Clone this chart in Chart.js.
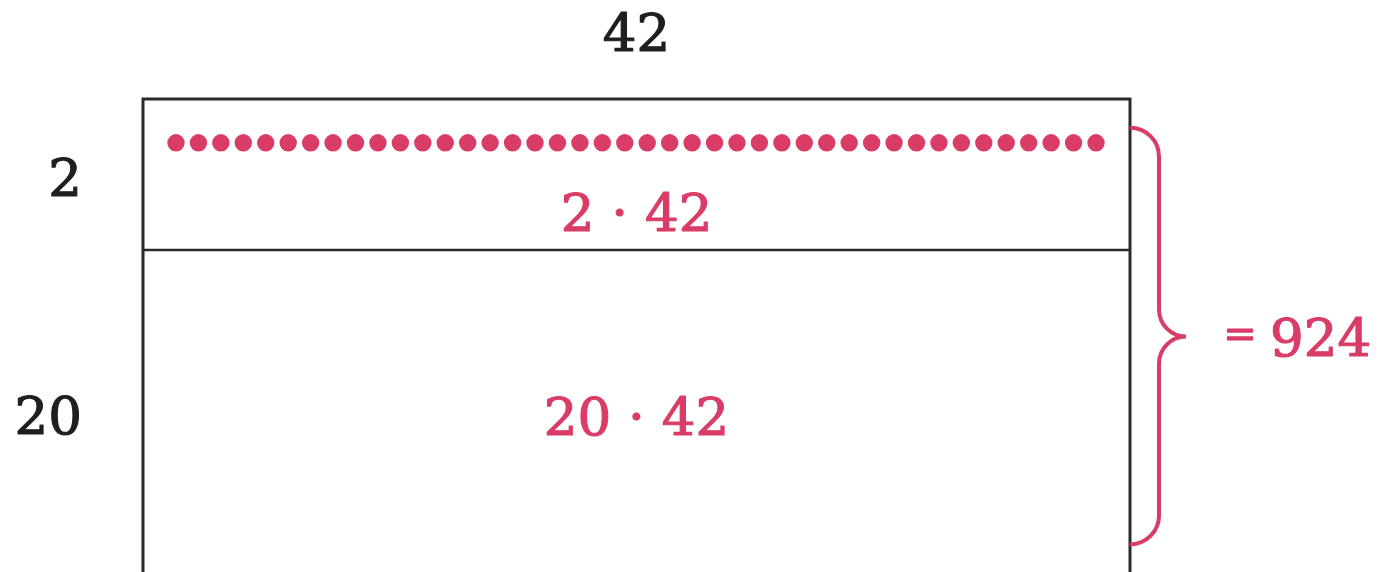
<!DOCTYPE html>
<html>
<head>
<meta charset="utf-8">
<script src="https://cdn.jsdelivr.net/npm/chart.js@4/dist/chart.umd.min.js"></script>
<style>
  html, body { margin: 0; padding: 0; background: #ffffff; }
  #wrap { width: 1379px; height: 572px; }
</style>
</head>
<body>
<div id="wrap"><canvas id="c" width="1379" height="572"></canvas></div>
<script>
// ---- data ----
const widthValue = 42;                 // columns (top label)
const rowValues = [2, 20];             // row heights (left labels)
const totalValue = 924;                // 2*42 + 20*42
const dotIndex = [1,2,3,4,5,6,7,8,9,10,11,12,13,14,15,16,17,18,19,20,21,
                  22,23,24,25,26,27,28,29,30,31,32,33,34,35,36,37,38,39,40,41,42];
const topLabel = "42";
const rowLabels = ["2", "20"];
const productLabels = ["2 · 42", "20 · 42"];
const totalLabel = "924";

const PINK = "#d93d67";
const INK = "#1f1f1f";
const FONT = "'DejaVu Serif', serif";

const dotData = dotIndex.map(i => ({ x: i, y: 0.58 }));

function boldText(ctx, s, x, y) {
  ctx.fillText(s, x, y);
  ctx.strokeText(s, x, y);
}

const areaPlugin = {
  id: 'areaModel',
  afterDraw(chart) {
    const ctx = chart.ctx;
    const xs = chart.scales.x, ys = chart.scales.y;
    const L = xs.getPixelForValue(0);
    const R = xs.getPixelForValue(widthValue);
    const T = ys.getPixelForValue(0);
    const D = ys.getPixelForValue(rowValues[0]);
    const B = chart.height;
    ctx.save();
    // rectangle
    ctx.strokeStyle = "#2a2a2a";
    ctx.lineWidth = 3;
    ctx.beginPath();
    ctx.moveTo(L, B + 5); ctx.lineTo(L, T); ctx.lineTo(R, T); ctx.lineTo(R, B + 5);
    ctx.stroke();
    ctx.lineWidth = 2.5;
    ctx.beginPath();
    ctx.moveTo(L, D); ctx.lineTo(R, D);
    ctx.stroke();

    // brace
    const bTop = ys.getPixelForValue(0.38);
    const bBot = ys.getPixelForValue(5.9);
    const bMid = ys.getPixelForValue(3.147);
    const x0 = R, x1 = R + 29, x2 = R + 56;
    ctx.strokeStyle = PINK;
    ctx.lineWidth = 4;
    ctx.lineJoin = 'round';
    ctx.beginPath();
    ctx.moveTo(x0, bTop);
    ctx.arcTo(x1, bTop, x1, bTop + 29, 29);
    ctx.lineTo(x1, bMid - 27);
    ctx.arcTo(x1, bMid, x2, bMid, 27);
    ctx.lineTo(x2, bMid);
    ctx.moveTo(x2, bMid);
    ctx.arcTo(x1, bMid, x1, bMid + 27, 27);
    ctx.lineTo(x1, bBot - 29);
    ctx.arcTo(x1, bBot, x0, bBot, 29);
    ctx.lineTo(x0, bBot);
    ctx.stroke();

    // texts
    const cx = xs.getPixelForValue(widthValue / 2);
    ctx.font = "53px " + FONT;
    ctx.textBaseline = 'alphabetic';
    ctx.lineWidth = 1.2;
    ctx.fillStyle = INK;
    ctx.strokeStyle = INK;
    ctx.textAlign = 'center';
    boldText(ctx, topLabel, cx, T - 48);
    ctx.textAlign = 'right';
    boldText(ctx, rowLabels[0], L - 61, ys.getPixelForValue(1.28));
    boldText(ctx, rowLabels[1], L - 61, ys.getPixelForValue(4.44));
    ctx.fillStyle = PINK;
    ctx.strokeStyle = PINK;
    ctx.textAlign = 'center';
    boldText(ctx, productLabels[0], cx, ys.getPixelForValue(1.75));
    boldText(ctx, productLabels[1], cx, ys.getPixelForValue(4.45));
    ctx.textAlign = 'left';
    boldText(ctx, totalLabel, R + 140, ys.getPixelForValue(3.4));
    ctx.font = "40px " + FONT;
    ctx.textAlign = 'center';
    boldText(ctx, "=", R + 110, ys.getPixelForValue(3.29));
    ctx.restore();
  }
};

new Chart(document.getElementById('c'), {
  type: 'scatter',
  data: {
    datasets: [{
      label: 'dots',
      data: dotData,
      xAxisID: 'xd',
      yAxisID: 'y',
      pointRadius: 8.7,
      pointHoverRadius: 8.7,
      pointBackgroundColor: PINK,
      pointBorderWidth: 0,
      borderWidth: 0,
      showLine: false,
      clip: false
    }]
  },
  options: {
    responsive: false,
    animation: false,
    devicePixelRatio: 1,
    layout: { autoPadding: false, padding: { left: 143, right: 249, top: 99, bottom: 0 } },
    plugins: { legend: { display: false }, tooltip: { enabled: false } },
    scales: {
      x: { type: 'linear', min: 0, max: widthValue, display: false },
      xd: { type: 'linear', min: -0.47, max: 43.515, display: false },
      y: { type: 'linear', min: 0, max: 6.265, reverse: true, display: false }
    }
  },
  plugins: [areaPlugin]
});
</script>
</body>
</html>
